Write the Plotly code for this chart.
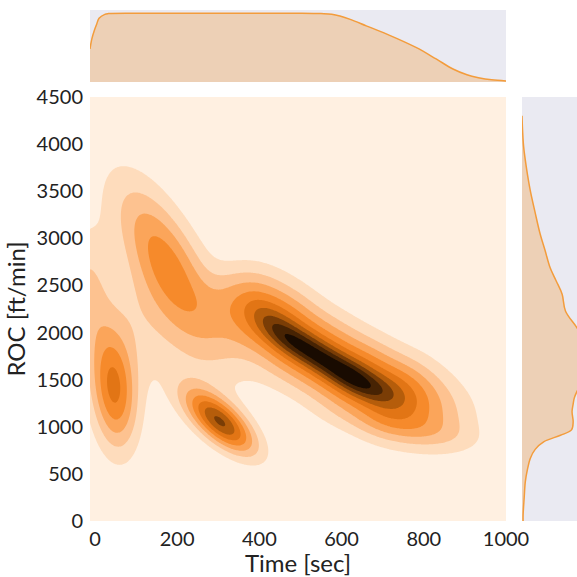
import numpy as np
import plotly.graph_objects as go

# ---------------- data ----------------
# 2-D density modelled as a mixture of elongated bumps (centres in data units,
# spreads in screen pixels, orientation in degrees, relative weight)
# broad ridge knots, narrow ridge-core knots, then the other clusters
comp_time = [335, 380, 425, 471, 523, 575, 627, 681, 738, 794, 851, 908,
             425, 471, 523, 575, 627, 681,
             172, 46, -20, 305, 230, 760, 100, 620]
comp_roc = [2476, 2296, 2114, 1940, 1800, 1660, 1520, 1399, 1301, 1202, 1103, 1004,
            2114, 1940, 1800, 1660, 1520, 1399,
            2760, 1400, 2450, 1050, 1900, 980, 2250, 1850]
comp_major = [18, 18, 18, 18, 18, 18, 18, 20, 20, 20, 20, 20,
              18, 18, 18, 18, 18, 18,
              62, 42, 45, 30, 50, 50, 40, 80]
comp_minor = [24, 26, 26, 26, 26, 26, 26, 26, 27, 27, 27, 27,
              10, 10, 10, 10, 10, 10,
              23, 16, 16, 13, 40, 12, 30, 25]
comp_angle = [-42, -42, -42, -32, -32, -32, -32, -25, -25, -22, -22, -22,
              -42, -32, -32, -32, -32, -25,
              -62, 95, 90, -41, -30, -10, 90, -32]
comp_weight = [0.26, 0.5, 0.6, 0.6, 0.6, 0.6, 0.6, 0.6, 0.6, 0.4, 0.22, 0.1,
               0.2, 0.4, 0.4, 0.4, 0.45, 0.3,
               0.82, 1.0, 0.38, 1.35, 0.22, 0.2, 0.15, 0.12]

# marginal density of Time (top panel)
top_time = [-12, -7.5, -1.3, 4, 10, 24, 33, 100, 200, 300, 400, 500, 550, 576,
            621, 660, 710, 781, 830, 871, 905, 933, 965, 1000]
top_density = [0.46, 0.60, 0.72, 0.80, 0.885, 0.94, 0.95, 0.955, 0.955, 0.955,
               0.955, 0.955, 0.95, 0.94, 0.87, 0.78, 0.665, 0.48, 0.32, 0.18,
               0.10, 0.06, 0.03, 0.015]

# marginal density of ROC (right panel)
right_roc = [0, 64, 250, 416, 550, 664, 760, 842, 910, 967, 1050, 1162, 1240,
             1304, 1375, 1500, 1700, 1900, 2050, 2229, 2406, 2550, 2690, 2870,
             3046, 3270, 3508, 3750, 3970, 4150, 4300]
right_density = [0.02, 0.02, 0.04, 0.06, 0.10, 0.15, 0.24, 0.40, 0.70, 0.90,
                 0.93, 0.91, 0.93, 0.95, 1.0, 1.12, 1.2, 1.15, 1.0, 0.79,
                 0.73, 0.62, 0.51, 0.42, 0.33, 0.24, 0.15, 0.08, 0.03, 0.01, 0.0]

x_ticks = [0, 200, 400, 600, 800, 1000]
y_ticks = [0, 500, 1000, 1500, 2000, 2500, 3000, 3500, 4000, 4500]

band_colors = ["#fff0e1", "#fedcbc", "#fdc290", "#fba55a", "#f68a2b",
               "#e27515", "#b55d0b", "#7a3d06", "#472303", "#190b01"]

# ---------------- layout geometry ----------------
W = H = 577
x_range = [-12, 1000]
y_range = [0, 4500]
main_x_dom = [90 / W, 506 / W]
main_y_dom = [1 - 521 / H, 1 - 97 / H]
top_y_dom = [1 - 82 / H, 1 - 10 / H]
right_x_dom = [522 / W, 1.0]

px_per_x = (main_x_dom[1] - main_x_dom[0]) * W / (x_range[1] - x_range[0])
px_per_y = (main_y_dom[1] - main_y_dom[0]) * H / (y_range[1] - y_range[0])

# ---------------- density grid ----------------
gx = np.linspace(x_range[0], x_range[1], 360)
gy = np.linspace(y_range[0], y_range[1], 360)
XX, YY = np.meshgrid(gx, gy)
U = XX * px_per_x
V = YY * px_per_y
Z = np.zeros_like(XX)
for cx, cy, sa, sb, ang, w in zip(comp_time, comp_roc, comp_major, comp_minor,
                                  comp_angle, comp_weight):
    th = np.deg2rad(ang)
    du = U - cx * px_per_x
    dv = V - cy * px_per_y
    a = du * np.cos(th) + dv * np.sin(th)
    b = -du * np.sin(th) + dv * np.cos(th)
    Z += w * np.exp(-0.5 * ((a / sa) ** 2 + (b / sb) ** 2))
Z = Z / Z.max()

n = len(band_colors)
colorscale = [[i / (n - 1), c] for i, c in enumerate(band_colors)]

fig = go.Figure()
fig.add_trace(go.Contour(
    x=gx, y=gy, z=Z, colorscale=colorscale, showscale=False,
    contours=dict(start=0.1, end=0.9, size=0.1, coloring="fill"),
    line=dict(width=0), zmin=0, zmax=1, hoverinfo="skip",
    xaxis="x", yaxis="y"))

line_col = "#f39c3c"
fill_col = "rgba(243,156,60,0.33)"
fig.add_trace(go.Scatter(
    x=top_time, y=top_density, mode="lines", line=dict(color=line_col, width=1.5, shape="spline"),
    fill="tozeroy", fillcolor=fill_col, xaxis="x", yaxis="y2", hoverinfo="skip"))
fig.add_trace(go.Scatter(
    x=right_density, y=right_roc, mode="lines", line=dict(color=line_col, width=1.5, shape="spline"),
    fill="tozerox", fillcolor=fill_col, xaxis="x2", yaxis="y", hoverinfo="skip"))

font = dict(family="Lato, 'Open Sans', sans-serif", size=20, color="#222222")
fig.update_layout(
    width=W, height=H, autosize=False, margin=dict(l=0, r=0, t=0, b=0, pad=0),
    paper_bgcolor="white", plot_bgcolor="#eaeaf2", showlegend=False, font=font,
    xaxis=dict(domain=main_x_dom, range=x_range, tickvals=x_ticks, showgrid=False,
               zeroline=False, showline=False, ticks="", ticklabelstandoff=4,
               automargin=False,
               title=dict(text="Time [sec]", standoff=2), anchor="y"),
    yaxis=dict(domain=main_y_dom, range=y_range, tickvals=y_ticks, showgrid=False,
               zeroline=False, showline=False, ticks="", ticklabelstandoff=6,
               automargin=False,
               title=dict(text="ROC [ft/min]", standoff=4), anchor="x"),
    yaxis2=dict(domain=top_y_dom, range=[0, 1.0], showgrid=False, zeroline=False,
                showticklabels=False, ticks="", anchor="x", automargin=False),
    xaxis2=dict(domain=right_x_dom, range=[0, 1.0], showgrid=False, zeroline=False,
                showticklabels=False, ticks="", anchor="y", automargin=False),
)
fig.write_html("out.html", config={"displayModeBar": False},
               post_script="document.body.style.margin='0';document.body.style.overflow='hidden';")
